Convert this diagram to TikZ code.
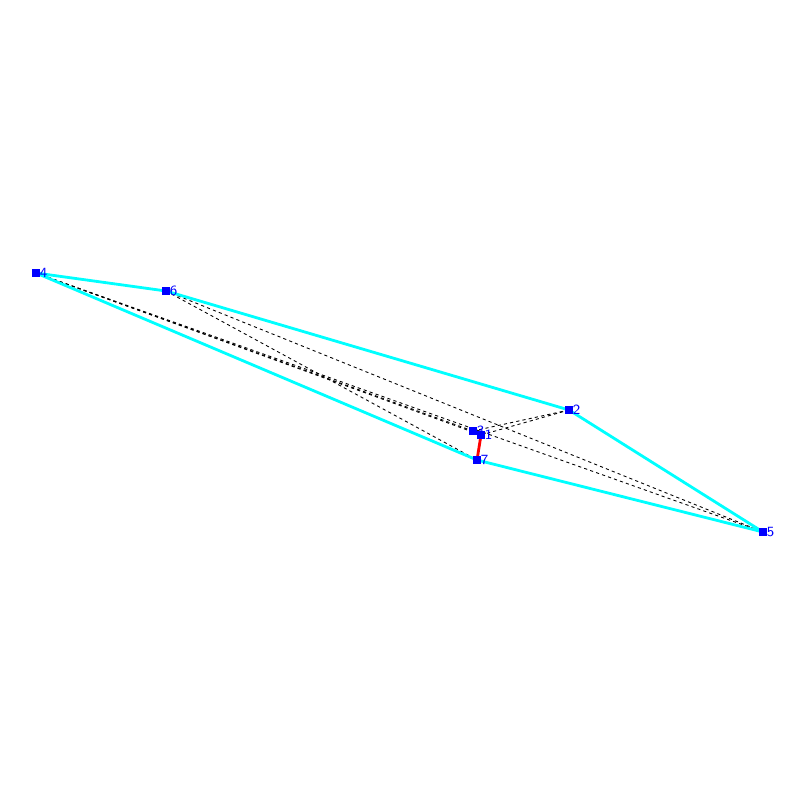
\documentclass[tikz,border=0pt]{standalone}
\usepackage{tikz}
\usetikzlibrary{positioning}
\definecolor{hullcyan}{RGB}{0,255,255}
\definecolor{ptblue}{RGB}{0,0,255}

\begin{document}
\begin{tikzpicture}[x=0.02cm, y=-0.02cm, line cap=butt]
\useasboundingbox (0,0) rectangle (800,800);
   \begin{scope}[every node/.style={text=ptblue,inner sep=0.5pt,font=\sffamily\fontsize{8}{9}\selectfont}]
\coordinate(p1) at (481,435);
\coordinate(p2) at (569,410);
\coordinate(p3) at (473,431);
\coordinate(p4) at (36,273);
\coordinate(p5) at (763,532);
\coordinate(p6) at (166,291);
\coordinate(p7) at (477,460);

% tested segments
\foreach \a/\b in {p4/p5,p4/p3,p4/p1,p6/p5,p6/p7,p3/p2,p1/p2}
       \draw [black, line width=0.5pt, dash pattern=on 1.8pt off 1.8pt] (\a) -- (\b);

% hull
\draw [hullcyan, line width=1.6pt, line join=round] (p4) -- (p6) -- (p2) -- (p5) -- (p7) -- cycle;
\draw [red, line width=1.6pt] (p1) -- (p7);

\foreach \p in {1,...,7}
       \fill [ptblue, shift={(p\p)}] (-4,-4) rectangle (4,4);
\foreach \p in {1,...,7}
       \node [right=3pt of p\p, anchor=west, xshift=-1.5pt] {\p};
  \end{scope}
\end{tikzpicture}
\end{document}
